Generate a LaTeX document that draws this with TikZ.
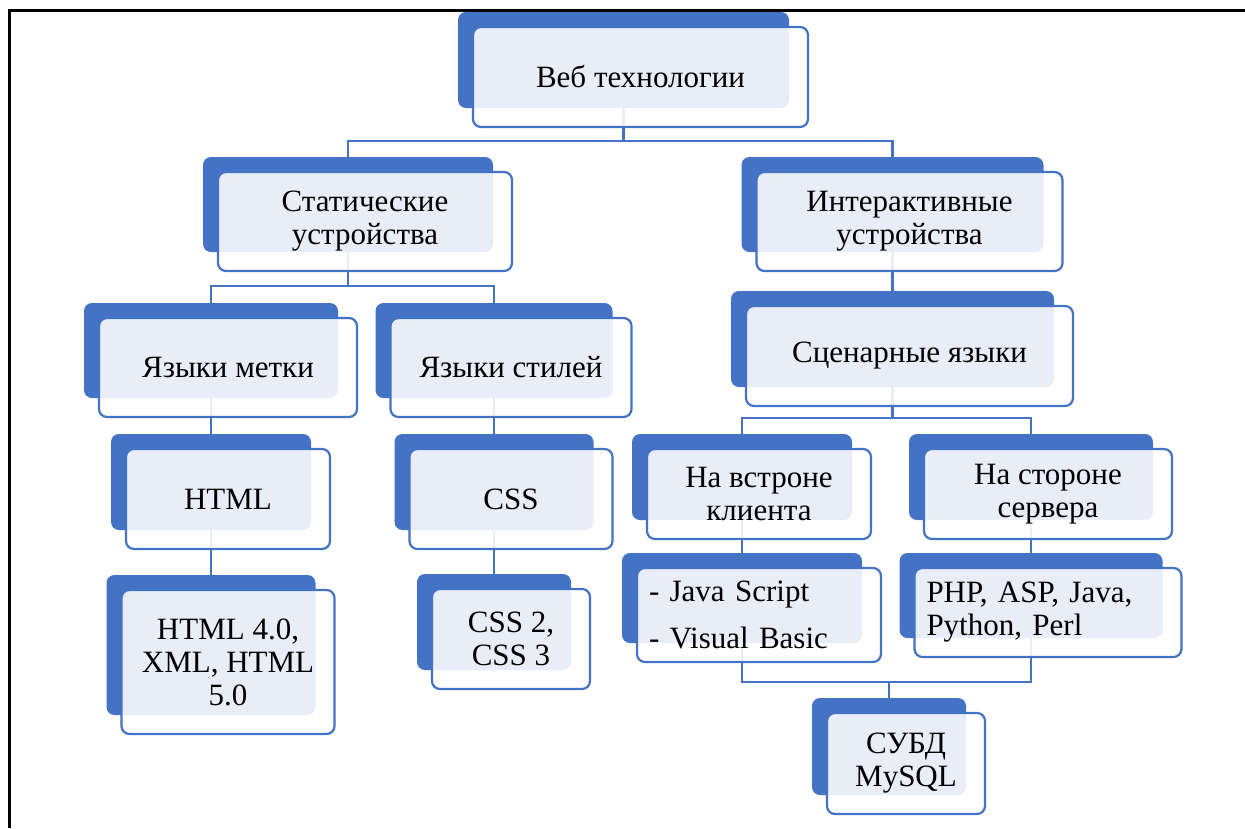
\documentclass[tikz,border=0pt]{standalone}
\usepackage{fontspec}
\setmainfont{Liberation Serif}
\usetikzlibrary{
	positioning
}
\definecolor{smartblue}{HTML}{4472C4}
\tikzset{
	back/.style={
		fill=smartblue, rounded corners=8pt, inner sep=0pt
	},
	front/.style={
		draw=smartblue, line width=2.2pt, rounded corners=8pt,
		fill=white, fill opacity=0.88, text opacity=1,
		inner sep=6pt, align=center,
		font=\fontsize{31}{33}\selectfont
	},
	over/.style={
		at={([shift={(17,17)}]#1.center)}
	},
	link/.style={
		draw=smartblue, line width=2.4pt
	}
}

\begin{document}
\begin{tikzpicture}[x=1pt,y=-1pt]
	\useasboundingbox (0,0) rectangle (1245,828);
	\draw[line width=3pt] (9,828) -- (9,10) -- (1245,10);

	% back boxes
	\node[back, minimum width=331pt, minimum height=96pt] (web)     at (623.5,60)  {};
	\node[back, minimum width=290pt, minimum height=95pt] (stat)    at (348,204.5) {};
	\node[back, minimum width=302pt, minimum height=95pt] (inter)   at (892.5,204.5) {};
	\node[back, minimum width=254pt, minimum height=95pt] (markup)  at (211,350.5) {};
	\node[back, minimum width=237pt, minimum height=95pt] (style)   at (494,350.5) {};
	\node[back, minimum width=323pt, minimum height=96pt] (script)  at (892.5,339)  {};
	\node[back, minimum width=200pt, minimum height=96pt] (html)    at (211,482)  {};
	\node[back, minimum width=199pt, minimum height=96pt] (css)     at (494,482)  {};
	\node[back, minimum width=209pt, minimum height=140pt] (htmlv)  at (211,645)  {};
	\node[back, minimum width=154pt, minimum height=96pt] (cssv)    at (494,622)  {};
	\node[back, minimum width=220pt, minimum height=86pt] (client)  at (742,477)  {};
	\node[back, minimum width=244pt, minimum height=86pt] (server)  at (1031,477) {};
	\node[back, minimum width=240pt, minimum height=90pt] (clientl) at (742,598)  {};
	\node[back, minimum width=263pt, minimum height=85pt] (serverl) at (1031,595.5) {};
	\node[back, minimum width=154pt, minimum height=97pt] (dbms)    at (889,746.5) {};

	% connectors
	\draw[link] (web.south) -- ++(0,33) -| (stat.north);
	\draw[link] (web.south) -- ++(0,33) -| (inter.north);
	\draw[link] (stat.south) -- ++(0,34) -| (markup.north);
	\draw[link] (stat.south) -- ++(0,34) -| (style.north);
	\draw[link] (inter.south) -- (script.north);
	\draw[link] (script.south) -- ++(0,31) -| (client.north);
	\draw[link] (script.south) -- ++(0,31) -| (server.north);
	\draw[link] (markup.south) -- (html.north);
	\draw[link] (style.south) -- (css.north);
	\draw[link] (html.south) -- (htmlv.north);
	\draw[link] (css.south) -- (cssv.north);
	\draw[link] (client.south) -- (clientl.north);
	\draw[link] (server.south) -- (serverl.north);
	\draw[link] (clientl.south) -- ++(0,39) -| (dbms.north);
	\draw[link] (serverl.south) -- ++(0,44) -| (dbms.north);

	% front boxes
	\node[front, over=web,    minimum width=335pt, minimum height=100pt] (web-t)    {Веб технологии};
	\node[front, over=stat,   minimum width=294pt, minimum height=99pt]  (stat-t)   {Статические\\устройства};
	\node[front, over=inter,  minimum width=306pt, minimum height=99pt]  (inter-t)  {Интерактивные\\устройства};
	\node[front, over=markup, minimum width=258pt, minimum height=99pt]  (markup-t) {Языки метки};
	\node[front, over=style,  minimum width=241pt, minimum height=99pt]  (style-t)  {Языки стилей};
	\node[front, over=script, minimum width=327pt, minimum height=100pt] (script-t) {Сценарные языки};
	\node[front, over=html,   minimum width=204pt, minimum height=100pt] (html-t)   {HTML};
	\node[front, over=css,    minimum width=203pt, minimum height=100pt] (css-t)    {CSS};
	\node[front, over=htmlv,  minimum width=213pt, minimum height=144pt] (htmlv-t)  {HTML 4.0,\\XML, HTML\\5.0};
	\node[front, over=cssv,   minimum width=158pt, minimum height=100pt] (cssv-t)   {CSS 2,\\CSS 3};
	\node[front, over=client, minimum width=224pt, minimum height=90pt]  (client-t) {На встроне\\клиента};
	\node[front, over=server, minimum width=248pt, minimum height=90pt]  (server-t) {На стороне\\сервера};
	\node[front, over=clientl, align=left, inner xsep=12pt, text width=220pt, minimum height=94pt] (clientl-t)
		{- Java Script\\[14pt]- Visual Basic};
	\node[front, over=serverl, align=left, inner xsep=12pt, text width=243pt, minimum height=89pt] (serverl-t)
		{PHP, ASP, Java,\\Python, Perl};
	\node[front, over=dbms,   minimum width=158pt, minimum height=101pt] (dbms-t)   {СУБД\\MySQL};
\end{tikzpicture}
\end{document}
